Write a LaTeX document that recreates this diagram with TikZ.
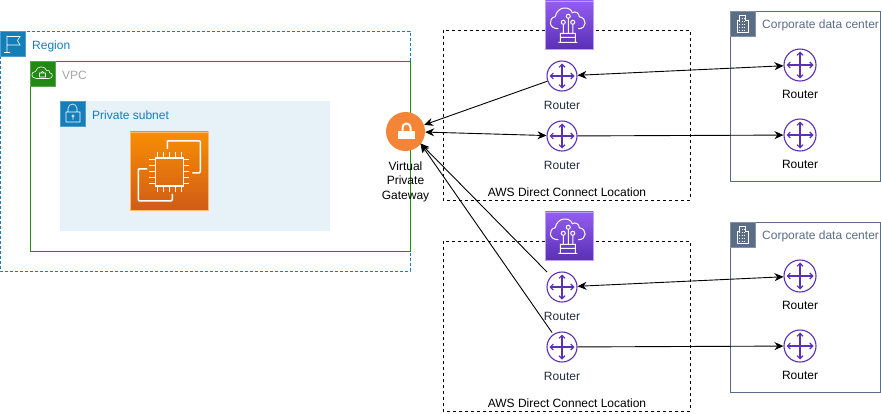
\documentclass[tikz,border=0pt]{standalone}
\usepackage{fontspec}
\setmainfont{Liberation Sans}
\usetikzlibrary{positioning}
\usetikzlibrary{arrows.meta}
\definecolor{regionblue}{HTML}{147EBA}
\definecolor{vpcgreen}{HTML}{248814}
\definecolor{subnetfill}{HTML}{E6F2F8}
\definecolor{routerpurple}{HTML}{5A30B5}
\definecolor{corpslate}{HTML}{5A6C86}
\definecolor{gatewayorange}{HTML}{F58536}
\definecolor{routertext}{HTML}{232F3E}
\definecolor{dxtop}{HTML}{945DF2}
\definecolor{ec2top}{HTML}{F78E04}
\definecolor{ec2bottom}{HTML}{D05C17}
\tikzset{
	>={Stealth[length=9pt,width=8pt]},
	lbl/.style={font=\fontsize{12}{14.5}\selectfont,inner sep=0pt,text=#1},
	lbl/.default=black,
	tile/.style={draw=#1!75!white,fill=#1,minimum size=25pt,inner sep=0pt,line width=.5pt},
	link/.style={black,line width=.9pt},
	router/.style={circle,draw=routerpurple,line width=1.1pt,minimum size=#1,inner sep=0pt,
		path picture={
			\draw[routerpurple,line width=1.1pt,{Straight Barb[length=3pt,width=6pt]}-{Straight Barb[length=3pt,width=6pt]}]
				([xshift=2.5pt]path picture bounding box.west) -- ([xshift=-2.5pt]path picture bounding box.east);
			\draw[routerpurple,line width=1.1pt,{Straight Barb[length=3pt,width=6pt]}-{Straight Barb[length=3pt,width=6pt]}]
				([yshift=-2.5pt]path picture bounding box.north) -- ([yshift=2.5pt]path picture bounding box.south);
		}},
	router/.default=30pt,
	dxicon/.style={draw=dxtop!60!white,top color=dxtop,bottom color=routerpurple,
		minimum size=48pt,inner sep=0pt,line width=.5pt,anchor=north west},
	ec2icon/.style={draw=orange!55!white,top color=ec2top,bottom color=ec2bottom,
		minimum size=78pt,inner sep=0pt,line width=.5pt,anchor=north west},
	flagpic/.pic={
		\draw[white,line width=.6pt] (-5.5,9) -- (-5.5,-8) (-8.5,9) -- (-2.5,9)
			(-5.5,-7) -- (7.5,-7) -- (5,-3) -- (7.5,1.5) -- (-5.5,1.5);
	},
	cloudpic/.pic={
		\draw[white,line width=.6pt] (-6,5) .. controls (-12,5) and (-12,-2) .. (-7,-2)
			.. controls (-6,-8) and (3,-8) .. (4,-3) .. controls (6,-4) and (8,-2) .. (7,-1)
			.. controls (11,0) and (11,5) .. (6,5) -- cycle;
		\draw[white,line width=.6pt] (-3,-.5) rectangle (3,3.5) (-1.7,-.5) arc (180:360:1.7);
	},
	lockpic/.pic={
		\draw[white,line width=.6pt] (-6.5,-1.5) rectangle (7.5,8.5) (-4.5,-1.5) -- (-4.5,-5) arc (180:360:4.5) -- (4.5,-1.5);
		\draw[white,line width=.6pt] (.5,2.5) circle (1.3) (.5,3.8) -- (.5,6);
	},
	buildingpic/.pic={
		\draw[white,line width=.6pt] (-5.5,8.5) -- (-5.5,-3.5) -- (-3,-3.5) -- (-3,-8.5) -- (3,-8.5) -- (3,-3.5) -- (5.5,-3.5) -- (5.5,8.5) -- cycle;
		\foreach \rowy in {-5,-2,1,4,7}
			\draw[white,line width=.7pt,dotted] (-3.5,\rowy) -- (3.8,\rowy);
	},
	dxpic/.pic={
		\draw[white,line width=1pt] (-11,4) .. controls (-21,4) and (-21,-7) .. (-14,-8)
			.. controls (-12,-19) and (1,-19) .. (3,-12) .. controls (6,-14) and (10,-12) .. (10,-8)
			.. controls (18,-7) and (18,4) .. (9,4);
		\draw[white,line width=1pt] (-6,-2.5) circle (2) (-1,-8.5) circle (2) (3.5,-2.5) circle (2)
			(-6,-.5) -- (-6,8.5) (-1,-6.5) -- (-1,8.5) (3.5,-.5) -- (3.5,8.5)
			(-9,8.5) rectangle (6,12.5) (-11,17.5) -- (8,17.5) (-9,17.5) -- (-9,12.5) (6,17.5) -- (6,12.5);
	},
	ec2pic/.pic={
		\draw[white,line width=1.5pt,rounded corners=1pt] (-2,-22) -- (-2,-30) -- (31,-30) -- (31,2) -- (23,2);
		\draw[white,line width=1.5pt,rounded corners=1pt] (-22,-2) -- (-31,-2) -- (-31,30) -- (3,30) -- (3,23);
		\draw[white,line width=1.5pt] (-14,-13) rectangle (14,15);
		\foreach \tick in {-12,-6,0,6,12} {
			\draw[white,line width=1.3pt] (\tick,-13) -- (\tick,-19) (\tick,15) -- (\tick,21)
				(-14,\tick+1) -- (-20,\tick+1) (14,\tick+1) -- (20,\tick+1);
		}
	},
}
\begin{document}
\begin{tikzpicture}[x=1pt,y=-1pt]
	\useasboundingbox (0,0) rectangle (881,413);
	% left side
	\draw[regionblue,dash pattern=on 3pt off 2pt,line width=.8pt] (0,31) rectangle (410,271);
	\node [tile=regionblue] (regiontile) at (12.5,43.5) {};
	\pic at (regiontile.center) {flagpic};
	\node [lbl=regionblue,anchor=west] (regionlbl) at (32,46) {Region};
	\draw[vpcgreen,line width=.8pt] (30,61) rectangle (410,251);
	\node [tile=vpcgreen] (vpctile) at (42.5,73.5) {};
	\pic at (vpctile.center) {cloudpic};
	\node [lbl=gray!70,anchor=west] (vpclbl) at (62,75) {VPC};
	\fill[subnetfill] (60,101) rectangle (330,231);
	\node [tile=regionblue] (subnettile) at (72.5,113.5) {};
	\pic at (subnettile.center) {lockpic};
	\node [lbl=regionblue,anchor=west] (subnetlbl) at (92,115) {Private subnet};
	\node [ec2icon] (ec2) at (130,131.5) {};
	\pic at (ec2.center) {ec2pic};
	% gateway
	\node [circle,fill=gatewayorange,minimum size=39pt,inner sep=0pt] (vgw) at (405.5,131.5) {};
	\fill[white] (398,131) rectangle (415,139);
	\draw[white,line width=2pt] (402.5,131) -- (402.5,127.5) arc (180:360:4) -- (410.5,131);
	\node [lbl,align=center,below=10pt of vgw] (vgwlbl) {Virtual\\Private\\Gateway};
	% direct connect locations
	\draw[black,dashed,line width=.7pt] (443,30) rectangle (690,200);
	\draw[black,dashed,line width=.7pt] (443,241) rectangle (690,411);
	\node [dxicon] (dxa) at (545,0.5) {};
	\pic at (dxa.center) {dxpic};
	\node [dxicon] (dxb) at (545,211.5) {};
	\pic at (dxb.center) {dxpic};
	\node [lbl,anchor=center] (dxalbl) at (567,192) {AWS Direct Connect Location};
	\node [lbl,anchor=center] (dxblbl) at (567,403) {AWS Direct Connect Location};
	\node [router] (ra) at (562,76) {};
	\node [router] (rb) at (562,136) {};
	\node [router] (rc) at (562,287) {};
	\node [router] (rd) at (562,347) {};
	\node [lbl=routertext,below=9pt of ra] (ralbl) {Router};
	\node [lbl=routertext,below=9pt of rb] (rblbl) {Router};
	\node [lbl=routertext,below=9pt of rc] (rclbl) {Router};
	\node [lbl=routertext,below=9pt of rd] (rdlbl) {Router};
	% corporate data centers
	\draw[corpslate,line width=.8pt] (730,11) rectangle (880,181);
	\draw[corpslate,line width=.8pt] (730,222) rectangle (880,392);
	\node [tile=corpslate] (corpatile) at (742.5,23.5) {};
	\pic at (corpatile.center) {buildingpic};
	\node [tile=corpslate] (corpbtile) at (742.5,234.5) {};
	\pic at (corpbtile.center) {buildingpic};
	\node [lbl=corpslate,anchor=west] (corpalbl) at (762,25) {Corporate data center};
	\node [lbl=corpslate,anchor=west] (corpblbl) at (762,236) {Corporate data center};
	\node [router=32pt] (ca) at (800,65) {};
	\node [router=32pt] (cb) at (800,135) {};
	\node [router=32pt] (cc) at (800,276) {};
	\node [router=32pt] (cd) at (800,346) {};
	\node [lbl,below=8pt of ca] (calbl) {Router};
	\node [lbl,below=8pt of cb] (cblbl) {Router};
	\node [lbl,below=8pt of cc] (cclbl) {Router};
	\node [lbl,below=8pt of cd] (cdlbl) {Router};
	% links
	\coordinate (vgwport) at (420.5,143.5);
	\coordinate (rcport) at (547,272);
	\coordinate (rdport) at (552,332.5);
	\draw[link,->] (ra) -- (vgw);
	\draw[link,<->] (rb) -- (vgw);
	\draw[link,->] (rcport) -- (vgwport);
	\draw[link,->] (rdport) -- (vgwport);
	\draw[link,<->] (ra) -- (ca);
	\draw[link,->] (rb) -- (cb);
	\draw[link,<->] (rc) -- (cc);
	\draw[link,->] (rd) -- (cd);
\end{tikzpicture}
\end{document}
